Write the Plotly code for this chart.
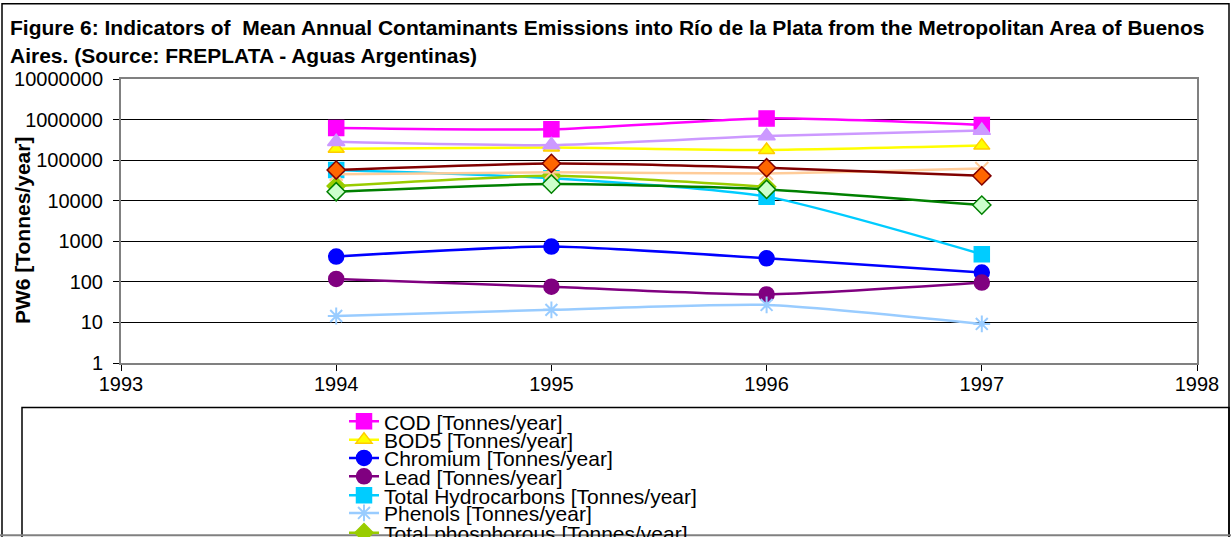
import plotly.graph_objects as go

# ---------------- data ----------------
years = [1994, 1995, 1996, 1997]

series_names = [
    "COD [Tonnes/year]",
    "BOD5 [Tonnes/year]",
    "Chromium [Tonnes/year]",
    "Lead [Tonnes/year]",
    "Total Hydrocarbons [Tonnes/year]",
    "Phenols [Tonnes/year]",
    "Total phosphorous [Tonnes/year]",
    "Total nitrogen [Tonnes/year]",
    "Oils and greases [Tonnes/year]",
    "Suspended solids [Tonnes/year]",
    "Detergents [Tonnes/year]",
]

cod = [620000, 575000, 1070000, 740000]
bod5 = [190000, 205000, 178000, 228000]
chromium = [420, 740, 380, 170]
lead = [118, 76, 49, 96]
total_hydrocarbons = [57000, 36000, 12600, 480]
phenols = [14.4, 20.4, 27, 9.2]
total_phosphorous = [23000, 41000, 22000, None]
total_nitrogen = [285000, 235000, 394000, 535000]
oils_greases = [45000, 50000, 47000, 62000]
suspended_solids = [57000, 83000, 65000, 41000]
detergents = [16600, 25700, 19000, 7800]

y_tickvals = [1, 10, 100, 1000, 10000, 100000, 1000000, 10000000]
y_ticktext = ["1", "10", "100", "1000", "10000", "100000", "1000000", "10000000"]
x_tickvals = [1993, 1994, 1995, 1996, 1997, 1998]

title_line1 = "Figure 6: Indicators of  Mean Annual Contaminants Emissions into Río de la Plata from the Metropolitan Area of Buenos"
title_line2 = "Aires. (Source: FREPLATA - Aguas Argentinas)"
y_title = "PW6 [Tonnes/year]"

# ---------------- styles ----------------
values = [cod, bod5, chromium, lead, total_hydrocarbons, phenols,
          total_phosphorous, total_nitrogen, oils_greases, suspended_solids, detergents]
styles = [
    dict(line="#FF00FF", symbol="square", fill="#FF00FF", outline="#FF00FF", size=15),
    dict(line="#FFFF00", symbol="triangle-up", fill="#FFFF00", outline="#FFCC00", size=14),
    dict(line="#0000FF", symbol="circle", fill="#0000FF", outline="#0000FF", size=15),
    dict(line="#800080", symbol="circle", fill="#800080", outline="#800080", size=15),
    dict(line="#00CCFF", symbol="square", fill="#00CCFF", outline="#00CCFF", size=15),
    dict(line="#99CCFF", symbol="asterisk-open", fill="#99CCFF", outline="#99CCFF", size=14),
    dict(line="#99CC00", symbol="diamond", fill="#99CC00", outline="#99CC00", size=14),
    dict(line="#CC99FF", symbol="triangle-up", fill="#CC99FF", outline="#CC99FF", size=15),
    dict(line="#FFCC99", symbol="x-thin-open", fill="#FFCC99", outline="#FFCC99", size=13),
    dict(line="#800000", symbol="diamond", fill="#FF6600", outline="#800000", size=14),
    dict(line="#008000", symbol="diamond", fill="#CCFFCC", outline="#008000", size=14),
]

W, H = 1231, 537
PL, PR, PT, PB = 121, 1197, 78.5, 363.3


def px_x(px):
    return (px - PL) / (PR - PL)


def px_y(py):
    return (PB - py) / (PB - PT)


FONT = "Arial, Liberation Sans, sans-serif"
fig = go.Figure()

legend_rows = [421.7, 440.0, 458.3, 476.7, 495.7, 513.3, 533.0]

for i, (name, vals, st) in enumerate(zip(series_names, values, styles)):
    show = i < len(legend_rows)
    lw = 2 if "open" in st["symbol"] else 1.5
    fig.add_trace(go.Scatter(
        x=years, y=vals, name=name, mode="lines+markers",
        line=dict(color=st["line"], width=2.5, shape="spline", smoothing=0.6),
        marker=dict(symbol=st["symbol"], size=st["size"], color=st["fill"],
                    line=dict(color=st["outline"], width=lw)),
        connectgaps=False,
        showlegend=show,
        legend=("legend" if i == 0 else f"legend{i+1}") if show else None,
    ))

layout_legends = {}
for i, row in enumerate(legend_rows):
    key = "legend" if i == 0 else f"legend{i+1}"
    layout_legends[key] = dict(
        x=344 / W, xref="container", xanchor="left",
        y=1 - row / H, yref="container", yanchor="middle",
        bgcolor="rgba(0,0,0,0)", borderwidth=0,
        font=dict(family=FONT, size=21, color="#000000"),
        itemwidth=30, tracegroupgap=0,
    )

fig.update_layout(
    width=W, height=H,
    margin=dict(l=PL, r=W - PR, t=PT, b=H - PB, pad=0, autoexpand=False),
    paper_bgcolor="#FFFFFF", plot_bgcolor="#FFFFFF",
    font=dict(family=FONT, color="#000000"),
    xaxis=dict(
        range=[1993, 1998], tickvals=x_tickvals, ticktext=[str(v) for v in x_tickvals],
        showgrid=False, zeroline=False,
        showline=True, linecolor="#808080", linewidth=2, mirror=True,
        ticks="outside", ticklen=6, tickcolor="#000000", tickwidth=1,
        tickfont=dict(family=FONT, size=20, color="#000000"),
        ticklabelstandoff=-4, automargin=False,
    ),
    yaxis=dict(
        type="log", range=[0, 7], tickvals=y_tickvals, ticktext=y_ticktext,
        showgrid=True, gridcolor="#000000", gridwidth=1, zeroline=False,
        showline=True, linecolor="#808080", linewidth=2, mirror=True,
        ticks="outside", ticklen=6, tickcolor="#000000", tickwidth=1,
        tickfont=dict(family=FONT, size=20, color="#000000"),
        ticklabelstandoff=6, automargin=False,
    ),
    annotations=[
        dict(text="<b>" + title_line1 + "</b>", xref="paper", yref="paper",
             x=px_x(8), y=px_y(27), xanchor="left", yanchor="middle", showarrow=False,
             font=dict(family=FONT, size=21, color="#000000")),
        dict(text="<b>" + title_line2 + "</b>", xref="paper", yref="paper",
             x=px_x(8), y=px_y(55), xanchor="left", yanchor="middle", showarrow=False,
             font=dict(family=FONT, size=21, color="#000000")),
        dict(text="<b>" + y_title + "</b>", xref="paper", yref="paper",
             x=px_x(22), y=px_y(231), xanchor="center", yanchor="middle", showarrow=False,
             textangle=-90, font=dict(family=FONT, size=21, color="#000000")),
    ],
    shapes=[
        dict(type="rect", xref="paper", yref="paper",
             x0=px_x(2), x1=px_x(1229), y0=px_y(3), y1=px_y(600),
             line=dict(color="#000000", width=1.5), fillcolor="rgba(0,0,0,0)", layer="below"),
        dict(type="rect", xref="paper", yref="paper",
             x0=px_x(22), x1=px_x(1229), y0=px_y(408), y1=px_y(600),
             line=dict(color="#000000", width=1.5), fillcolor="rgba(0,0,0,0)", layer="below"),
        dict(type="line", xref="paper", yref="paper",
             x0=px_x(0), x1=px_x(1231), y0=px_y(536), y1=px_y(536),
             line=dict(color="#808080", width=2), layer="above"),
    ],
    **layout_legends,
)

fig.write_html("out.html", post_script="document.body.style.margin='0';",
               config={"displayModeBar": False})
